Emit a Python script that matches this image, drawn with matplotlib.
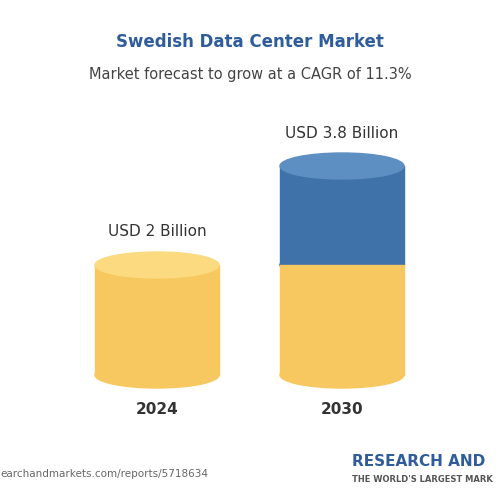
import matplotlib.pyplot as plt
from matplotlib.patches import Ellipse, Rectangle

years = ['2024', '2030']
values = [2.0, 3.8]
labels = ['USD 2 Billion', 'USD 3.8 Billion']
base_value = 2.0  # yellow part in 2030 equals the 2024 value

fig = plt.figure(figsize=(5, 5), dpi=100)
ax = fig.add_axes([0, 0, 1, 1])
ax.set_xlim(0, 500)
ax.set_ylim(500, 0)
ax.axis('off')

yellow, yellow_top = '#F6C85F', '#FBDA80'
blue, blue_top = '#3F72A8', '#5E8FC2'
scale = 55
floor = 375
w = 124
eh = 26
centers = [157, 342]

for i, (cx, v) in enumerate(zip(centers, values)):
    ytop = floor - v * scale
    ax.add_patch(Ellipse((cx, floor), w, eh, color=yellow, zorder=1))
    if v > base_value:
        ymid = floor - base_value * scale
        ax.add_patch(Rectangle((cx - w / 2, ymid), w, floor - ymid, color=yellow, zorder=2))
        ax.add_patch(Ellipse((cx, ymid), w, eh, color=blue, zorder=1.5))
        ax.add_patch(Rectangle((cx - w / 2, ytop), w, ymid - ytop, color=blue, zorder=1.6))
        ax.add_patch(Ellipse((cx, ytop), w, eh, color=blue_top, zorder=3))
    else:
        ax.add_patch(Rectangle((cx - w / 2, ytop), w, floor - ytop, color=yellow, zorder=2))
        ax.add_patch(Ellipse((cx, ytop), w, eh, color=yellow_top, zorder=3))
    ax.text(cx, ytop - 33, labels[i], ha='center', va='center', fontsize=11, color='#333333')
    ax.text(cx, 410, years[i], ha='center', va='center', fontsize=11, fontweight='bold', color='#333333')

ax.text(250, 42, 'Swedish Data Center Market', ha='center', va='center', fontsize=12,
        fontweight='bold', color='#2F5C9A')
ax.text(250, 75, 'Market forecast to grow at a CAGR of 11.3%', ha='center', va='center',
        fontsize=10.5, color='#444444')
ax.text(0, 474, 'earchandmarkets.com/reports/5718634', ha='left', va='center', fontsize=7.5, color='#666666')
ax.text(352, 462, 'RESEARCH AND', ha='left', va='center', fontsize=11, fontweight='bold', color='#2F5C9A')
ax.text(352, 479, "THE WORLD'S LARGEST MARK", ha='left', va='center', fontsize=6, fontweight='bold', color='#555555')

fig.savefig('out.png', dpi=100)
